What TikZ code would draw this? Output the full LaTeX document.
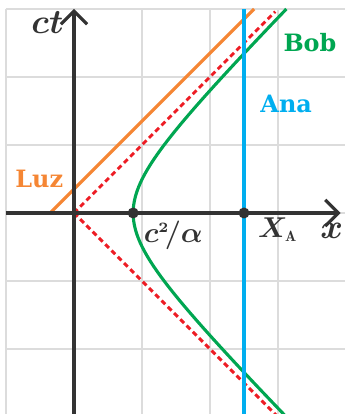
\documentclass[tikz,border=0pt]{standalone}
\usepackage{amsmath,bm}
\usepackage{fontspec}
\newfontfamily\labelfont{DejaVu Serif}
\usetikzlibrary{arrows.meta}
\definecolor{gridgray}{RGB}{220,220,220}
\definecolor{axisgray}{RGB}{51,51,51}
\definecolor{luzorange}{RGB}{245,134,52}
\definecolor{bobgreen}{RGB}{0,166,81}
\definecolor{anablue}{RGB}{0,174,239}
\definecolor{conered}{RGB}{237,28,36}
\tikzset{
  gridline/.style={draw=gridgray, line width=0.8pt},
  axisline/.style={draw=axisgray, line width=1.3pt, -{Straight Barb[length=5.5pt,width=11pt,line width=1.3pt]}},
  worldline/.style={line width=1.3pt},
  coneline/.style={draw=conered, line width=1.2pt, dash pattern=on 2.2pt off 1.5pt},
  namelabel/.style={font=\labelfont\fontsize{10}{12}\selectfont\bfseries, inner sep=0pt},
  mathlabel/.style={font=\fontsize{12.5}{15}\selectfont, text=axisgray, inner sep=0pt},
  dot/.style={circle, fill=axisgray, inner sep=0pt, minimum size=4.6pt}
}
\begin{document}
\begin{tikzpicture}
\useasboundingbox (-1.088,-2.956) rectangle (3.985,3.132);
\clip (-1.088,-2.956) rectangle (3.985,3.132);
% grid
\draw[gridline] (-1,-3) grid (4,3);
% light cone
\coordinate (O) at (0,0);
\coordinate (cu) at (2.96,2.96);
\coordinate (cd) at (3.05,-3.05);
\draw[coneline] (O) -- (cu);
\draw[coneline] (O) -- (cd);
% light ray
\coordinate (l0) at (-0.35,0);
\coordinate (l1) at (2.65,3);
\draw[worldline, luzorange] (l0) -- (l1);
% Bob hyperbola
\draw[worldline, bobgreen] plot[domain=-3.1:3.0, samples=120, smooth] ({sqrt(0.757+(\x)*(\x))},{\x});
% Ana
\coordinate (a0) at (2.5,-3.1);
\coordinate (a1) at (2.5,3);
\draw[worldline, anablue] (a0) -- (a1);
% axes
\coordinate (xs) at (-1,0);
\coordinate (xe) at (3.92,0);
\coordinate (ts) at (0,-3.1);
\coordinate (te) at (0,3);
\draw[axisline] (xs) -- (xe);
\draw[axisline] (ts) -- (te);
% dots
\node[dot] (d1) at (0.87,0) {};
\node[dot] (d2) at (2.5,0) {};
% labels
\node[mathlabel, anchor=base east, font=\fontsize{15.5}{17}\selectfont] (ct) at (-0.15,2.64) {$\bm{ct}$};
\node[mathlabel, anchor=base, font=\fontsize{14}{16}\selectfont] (xl) at (3.79,-0.37) {$\bm{x}$};
\node[mathlabel, anchor=base] (cal) at (1.46,-0.44) {$\bm{c^{\scriptscriptstyle 2}\!/\alpha}$};
\node[mathlabel, anchor=base west] (xa) at (2.70,-0.36) {$\bm{X_{\scriptscriptstyle\mathrm{A}}}$};
\node[namelabel, text=bobgreen] (bob) at (3.47,2.50) {Bob};
\node[namelabel, text=anablue] (ana) at (3.12,1.60) {Ana};
\node[namelabel, text=luzorange] (luz) at (-0.51,0.50) {Luz};
\end{tikzpicture}
\end{document}
